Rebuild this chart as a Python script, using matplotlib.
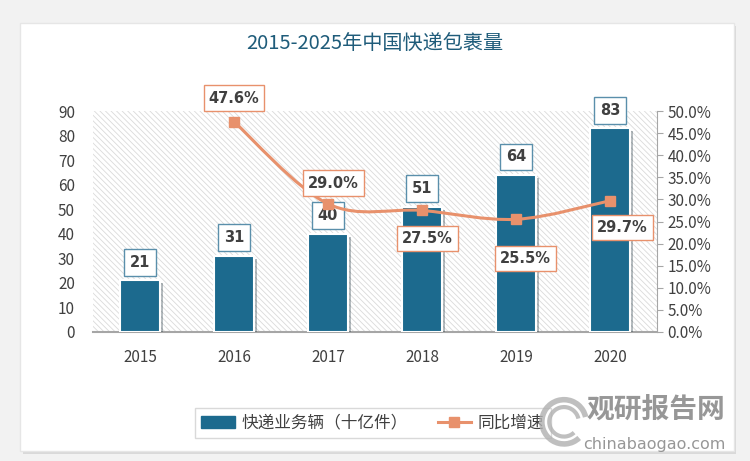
import matplotlib.pyplot as plt
import matplotlib.patheffects as pe
import numpy as np
from matplotlib.path import Path
from matplotlib.patches import PathPatch, FancyBboxPatch, Patch, Arc
from matplotlib.lines import Line2D
from matplotlib.ticker import PercentFormatter

plt.rcParams['font.family'] = ['Noto Sans CJK SC', 'DejaVu Sans']
plt.rcParams['hatch.color'] = '#dadada'
plt.rcParams['hatch.linewidth'] = 0.6

years = ['2015', '2016', '2017', '2018', '2019', '2020']
volume = [21, 31, 40, 51, 64, 83]
growth_years = ['2016', '2017', '2018', '2019', '2020']
growth = [0.476, 0.290, 0.275, 0.255, 0.297]
growth_labels = ['47.6%', '29.0%', '27.5%', '25.5%', '29.7%']

bar_color = '#1c6a8e'
line_color = '#e8916c'
text_color = '#404040'

fig = plt.figure(figsize=(7.5, 4.61), dpi=100)
fig.patch.set_facecolor('#f2f2f2')

# white card with soft shadow
card = FancyBboxPatch((0.027, 0.022), 0.951, 0.928, boxstyle='square,pad=0',
                      transform=fig.transFigure, facecolor='white', edgecolor='#e6e6e6',
                      linewidth=1, zorder=0,
                      path_effects=[pe.SimplePatchShadow(offset=(2, -2), alpha=0.15), pe.Normal()])
fig.patches.append(card)

ax = fig.add_axes([0.124, 0.280, 0.752, 0.479])
ax.set_zorder(1)
ax.patch.set_facecolor('white')
ax.patch.set_hatch('\\\\\\\\\\\\')
ax.patch.set_edgecolor('#dadada')
ax.patch.set_linewidth(0)

x = np.arange(len(years))
bars = ax.bar(x, volume, width=0.43, color=bar_color, edgecolor='white', linewidth=1.5, zorder=3)
for b in bars:
    b.set_path_effects([pe.SimplePatchShadow(offset=(2, -2), alpha=0.3), pe.Normal()])

for xi, v in zip(x, volume):
    ax.annotate(str(v), (xi, v), xytext=(0, 13), textcoords='offset points',
                ha='center', va='center', fontsize=10.5, fontweight='bold', color=text_color,
                family='DejaVu Sans',
                bbox=dict(boxstyle='square,pad=0.4', fc='white', ec='#5a8fab', lw=1), zorder=6)

ax.set_xlim(-0.5, len(years) - 0.5)
ax.set_ylim(0, 90)
ax.set_yticks(range(0, 91, 10))
ax.set_xticks(x)
ax.set_xticklabels(years)
ax.tick_params(axis='both', length=0, labelsize=11, colors=text_color)
ax.tick_params(axis='x', pad=12)
ax.tick_params(axis='y', pad=13)
for s in ['top', 'right', 'left']:
    ax.spines[s].set_visible(False)
ax.spines['bottom'].set_color('#a6a6a6')
ax.spines['bottom'].set_linewidth(1.5)

ax2 = ax.twinx()
ax2.set_ylim(0, 0.5)
ax2.set_yticks(np.arange(0, 0.51, 0.05))
ax2.yaxis.set_major_formatter(PercentFormatter(1.0, decimals=1))
ax2.tick_params(axis='y', length=4, labelsize=11, colors=text_color)
ax2.tick_params(axis='y', color='#a6a6a6')
for s in ['top', 'left', 'bottom']:
    ax2.spines[s].set_visible(False)
ax2.spines['right'].set_color('#a6a6a6')

# smooth growth line (bezier through the points)
gx = np.array([years.index(y) for y in growth_years], dtype=float)
gy = np.array(growth)
pts = np.column_stack([gx, gy])
verts = [pts[0]]
codes = [Path.MOVETO]
n = len(pts)
for i in range(n - 1):
    p0 = pts[i - 1] if i > 0 else pts[i]
    p1, p2 = pts[i], pts[i + 1]
    p3 = pts[i + 2] if i + 2 < n else pts[i + 1]
    verts += [p1 + (p2 - p0) / 6, p2 - (p3 - p1) / 6, p2]
    codes += [Path.CURVE4] * 3
ax2.add_patch(PathPatch(Path(verts, codes), fc='none', ec=line_color, lw=2.2, zorder=4))
ax2.plot(gx, gy, ls='none', marker='s', ms=7, color=line_color, zorder=5)

offsets = [(0, 17), (4, 15), (4, -20), (7, -28), (9, -19)]
for xi, yi, lab, off in zip(gx, gy, growth_labels, offsets):
    ax2.annotate(lab, (xi, yi), xytext=off, textcoords='offset points',
                 ha='center', va='center', fontsize=10.5, fontweight='bold', color=text_color,
                 family='DejaVu Sans',
                 bbox=dict(boxstyle='square,pad=0.35', fc='white', ec=line_color, lw=1), zorder=6)

fig.text(0.5, 0.905, '2015-2025年中国快递包裹量', ha='center', va='center',
         fontsize=14.5, color='#1f5c7a')

handles = [Patch(facecolor=bar_color, edgecolor=bar_color),
           Line2D([], [], color=line_color, lw=2.2, marker='s', ms=7)]
leg = fig.legend(handles, ['快递业务辆（十亿件）', '同比增速'], loc='center',
                 bbox_to_anchor=(0.497, 0.082), ncol=2, fontsize=12, frameon=True,
                 fancybox=False, edgecolor='#d0d0d0', columnspacing=1.8, handlelength=2.0,
                 handletextpad=0.4, borderpad=0.4, borderaxespad=0)
for t in leg.get_texts():
    t.set_color(text_color)

# watermark
for r, w in [(0.030, 4), (0.020, 3)]:
    fig.patches.append(Arc((0.752, 0.085), r * 2 * 461 / 750 * 1.6, r * 2 * 1.6,
                           theta1=20, theta2=300, transform=fig.transFigure,
                           color='#b0b0b0', lw=w, alpha=0.8, zorder=10))
fig.text(0.967, 0.112, '观研报告网', ha='right', va='center', fontsize=20,
         fontweight='bold', color='#8c8c8c', alpha=0.9)
fig.text(0.967, 0.035, 'chinabaogao.com', ha='right', va='center', fontsize=11.5,
         color='#8c8c8c', alpha=0.9, family='DejaVu Sans')

fig.savefig('out.png', dpi=100, facecolor=fig.get_facecolor())
